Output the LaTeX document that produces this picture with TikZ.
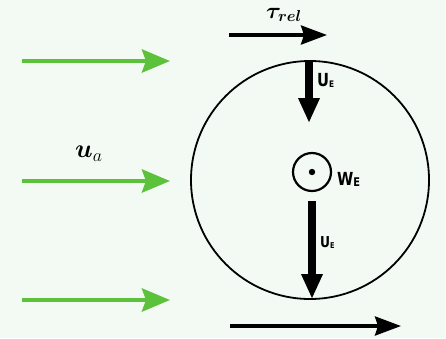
\documentclass[tikz,border=0pt]{standalone}
\usepackage{amsmath,bm,graphicx}
\usepackage{fontspec}
\newfontfamily\lblfont[FakeStretch=0.82]{DejaVu Sans}
\usetikzlibrary{arrows.meta}
\definecolor{bgc}{HTML}{F3FAF4}
\definecolor{grn}{HTML}{5CC23C}
\tikzset{
  x=1pt,y=-1pt,
  greenarrow/.style={draw=grn,line width=4.5pt,-{Stealth[length=28pt,width=23pt,inset=4pt]}},
  blackarrow/.style={draw=black,line width=3.5pt,-{Stealth[length=26pt,width=19pt,inset=3pt]}},
  thickarrow/.style={draw=black,line width=7.5pt,-{Triangle[length=25pt,width=20pt]}},
  ulabel/.style={font=\lblfont\bfseries\fontsize{18}{18}\selectfont,inner sep=0pt},
  mathlabel/.style={inner sep=0pt},
}
\newcommand{\subE}[1]{\raisebox{-1pt}{\fontsize{#1}{#1}\selectfont E}}
\begin{document}
\begin{tikzpicture}
\fill[bgc] (0,0) rectangle (446,338);
\useasboundingbox (0,0) rectangle (446,338);
% big circle
\node[draw,circle,line width=1.8pt,minimum size=238pt,inner sep=0pt] (C) at (310,180) {};
% green arrows
\coordinate (g1s) at (22,61);  \coordinate (g1e) at (170,61);
\coordinate (g2s) at (22,181); \coordinate (g2e) at (170,181);
\coordinate (g3s) at (22,300); \coordinate (g3e) at (170,300);
\draw[greenarrow] (g1s) -- (g1e);
\draw[greenarrow] (g2s) -- (g2e);
\draw[greenarrow] (g3s) -- (g3e);
\node[mathlabel] (ua) at (89,154) {\scalebox{1.25}{\huge$\bm{u}_{a}$}};
% tau_rel arrow
\coordinate (ts) at (229,35); \coordinate (te) at (327,35);
\draw[blackarrow] (ts) -- (te);
\node[mathlabel] (tau) at (284,15) {\scalebox{1.1}{\huge$\bm{\tau}_{\bm{rel}}$}};
% bottom arrow
\coordinate (bs) at (230,326); \coordinate (be) at (401,326);
\draw[blackarrow] (bs) -- (be);
% U_E top
\coordinate (u1s) at (309,61); \coordinate (u1e) at (309,123);
\draw[thickarrow] (u1s) -- (u1e);
\node[ulabel,anchor=base west] (ue1) at (317,86) {U\subE{9}};
% small circle W_E
\node[draw,circle,line width=2.2pt,minimum size=38pt,inner sep=0pt] (W) at (312,172) {};
\fill (W.center) circle (3.2pt);
\node[ulabel,anchor=base west] (we) at (337,185) {W\subE{12}};
% U_E lower
\coordinate (u2s) at (312,201); \coordinate (u2e) at (312,299);
\draw[thickarrow] (u2s) -- (u2e);
\node[ulabel,anchor=base west,font=\lblfont\bfseries\fontsize{15}{15}\selectfont] (ue2) at (320,247) {U\subE{8}};
\end{tikzpicture}
\end{document}
